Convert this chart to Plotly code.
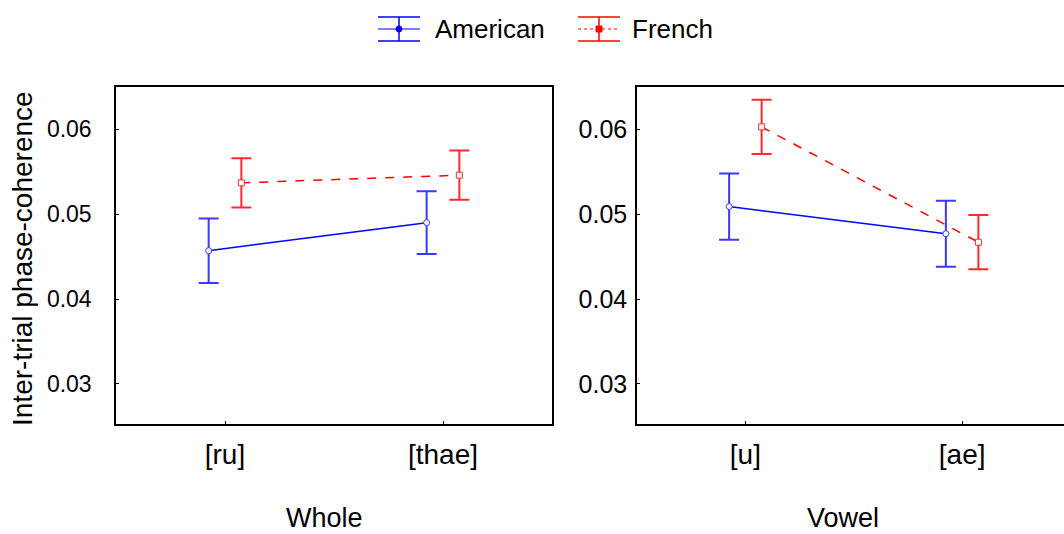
import plotly.graph_objects as go

# ---- data ----
whole_categories = ["[ru]", "[thae]"]
vowel_categories = ["[u]", "[ae]"]
series_names = ["American", "French"]

american_whole_mean = [0.0457, 0.0490]
american_whole_err = [0.0038, 0.0037]
french_whole_mean = [0.0537, 0.0546]
french_whole_err = [0.0029, 0.0029]

american_vowel_mean = [0.0509, 0.0477]
american_vowel_err = [0.0039, 0.0039]
french_vowel_mean = [0.0603, 0.0467]
french_vowel_err = [0.0032, 0.0032]

y_ticks = [0.03, 0.04, 0.05, 0.06]

BLUE = "#0000ff"
BLUE_ERR = "#3838ff"
RED = "#ff0000"
RED_ERR = "#ff2a2a"
OFF = 0.075
FONT = "Liberation Sans, Arial, sans-serif"

# plot-area geometry in pixels (for converting legend placement)
L, T, B, W = 116, 87, 424, 948
H = B - T


def px(x):
    return (x - L) / W


def py(y):
    return (B - y) / H


fig = go.Figure()


def add_pair(am, ae, fm, fe, xa, ya):
    n = len(am)
    fig.add_trace(go.Scatter(
        x=[i - OFF for i in range(n)], y=am, xaxis=xa, yaxis=ya,
        mode="lines+markers", name=series_names[0], showlegend=False,
        line=dict(color=BLUE, width=1.5),
        marker=dict(symbol="circle", size=6, color="white", line=dict(color=BLUE_ERR, width=1)),
        error_y=dict(type="data", array=ae, visible=True, color=BLUE_ERR, thickness=2, width=10),
    ))
    fig.add_trace(go.Scatter(
        x=[i + OFF for i in range(n)], y=fm, xaxis=xa, yaxis=ya,
        mode="lines+markers", name=series_names[1], showlegend=False,
        line=dict(color=RED, width=1.5, dash="dash"),
        marker=dict(symbol="square", size=6, color="white", line=dict(color=RED_ERR, width=1)),
        error_y=dict(type="data", array=fe, visible=True, color=RED_ERR, thickness=2, width=10),
    ))


add_pair(american_whole_mean, american_whole_err, french_whole_mean, french_whole_err, "x", "y")
add_pair(american_vowel_mean, american_vowel_err, french_vowel_mean, french_vowel_err, "x2", "y2")

yr = [0.02526, 0.0650]
common_x = dict(showline=True, linecolor="black", linewidth=1.5, ticks="inside", ticklen=3,
                tickcolor="black", showgrid=False, zeroline=False,
                tickfont=dict(family=FONT, size=28, color="black"), ticklabelstandoff=5)
common_y = dict(showline=True, linecolor="black", linewidth=1.5, ticks="inside", ticklen=3,
                tickcolor="black", showgrid=False, zeroline=False, range=yr,
                tickvals=y_ticks, ticktext=[f"{v:.2f}" for v in y_ticks])

# ---- manual legend (error-bar style icons) ----
shapes = []
legend_annotations = []
legend_items = [
    (series_names[0], BLUE, "solid", 378, 433, "circle"),
    (series_names[1], RED, "dot", 578, 630, "square"),
]
for name, col, dash, x0, tx, sym in legend_items:
    xm = x0 + 21
    yc, ytop, ybot = 29, 17, 41
    for yy in (ytop, ybot):
        shapes.append(dict(type="line", xref="paper", yref="paper", x0=px(x0), x1=px(x0 + 42),
                           y0=py(yy), y1=py(yy), line=dict(color=col, width=1.5)))
    shapes.append(dict(type="line", xref="paper", yref="paper", x0=px(x0), x1=px(x0 + 42),
                       y0=py(yc), y1=py(yc), line=dict(color=col, width=1.2, dash=dash)))
    shapes.append(dict(type="line", xref="paper", yref="paper", x0=px(xm), x1=px(xm),
                       y0=py(ytop), y1=py(ybot), line=dict(color=col, width=1.5)))
    shapes.append(dict(type="rect" if sym == "square" else "circle", xref="paper", yref="paper",
                       x0=px(xm - 3), x1=px(xm + 3), y0=py(yc - 3), y1=py(yc + 3),
                       fillcolor=col, line=dict(color=col, width=1)))
    legend_annotations.append(dict(text=name, xref="paper", yref="paper", x=px(tx), y=py(yc),
                                   xanchor="left", yanchor="middle", showarrow=False,
                                   font=dict(family=FONT, size=26, color="black")))

fig.update_layout(
    width=1064, height=534,
    margin=dict(l=L, r=0, t=T, b=534 - B),
    paper_bgcolor="white", plot_bgcolor="white",
    font=dict(family=FONT, color="black"),
    showlegend=False,
    xaxis=dict(domain=[0, 436 / W], range=[-0.5, 1.5], mirror=True,
               tickvals=list(range(len(whole_categories))), ticktext=whole_categories, **common_x),
    yaxis=dict(domain=[0, 1], mirror=True, tickfont=dict(family=FONT, size=23, color="black"),
               ticklabelstandoff=18, **common_y),
    xaxis2=dict(domain=[521 / W, 1], range=[-0.5, 1.47], mirror=True, anchor="y2",
                tickvals=list(range(len(vowel_categories))), ticktext=vowel_categories, **common_x),
    yaxis2=dict(domain=[0, 1], anchor="x2", mirror=False, tickfont=dict(family=FONT, size=25, color="black"),
                ticklabelstandoff=3, **common_y),
    shapes=shapes,
    annotations=legend_annotations + [
        dict(text="Inter-trial phase-coherence", xref="paper", yref="paper", x=px(22), y=py(259),
             xanchor="center", yanchor="middle", textangle=-90, showarrow=False,
             font=dict(family=FONT, size=28, color="black")),
        dict(text="Whole", xref="paper", yref="paper", x=px(324), y=py(518),
             xanchor="center", yanchor="middle", showarrow=False,
             font=dict(family=FONT, size=27, color="black")),
        dict(text="Vowel", xref="paper", yref="paper", x=px(843), y=py(518),
             xanchor="center", yanchor="middle", showarrow=False,
             font=dict(family=FONT, size=27, color="black")),
    ],
)

fig.write_html("out.html", config={"displayModeBar": False},
               post_script="document.body.style.margin='0px';document.body.style.overflow='hidden';")
